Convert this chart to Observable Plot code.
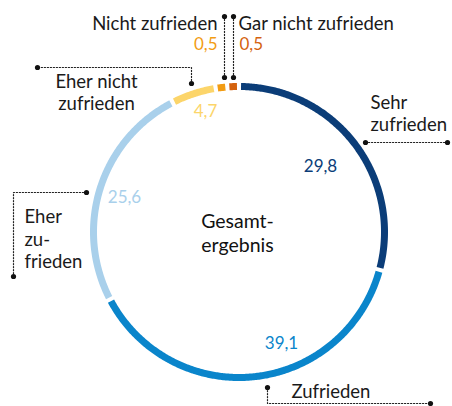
<!DOCTYPE html>
<html><head><meta charset="utf-8">
<script src="https://cdn.jsdelivr.net/npm/d3@7"></script>
<script src="https://cdn.jsdelivr.net/npm/@observablehq/plot@0.6"></script>
<style>body{margin:0;background:#fff} svg{display:block}</style>
</head><body><div id="chart"></div>
<script>
// ---- data ----
const categories = ["Sehr zufrieden","Zufrieden","Eher zufrieden","Eher nicht zufrieden","Nicht zufrieden","Gar nicht zufrieden"];
const values = [29.8, 39.1, 25.6, 4.7, 0.5, 0.5];
const valueLabels = ["29,8","39,1","25,6","4,7","0,5","0,5"];
const categoryLabels = ["Sehr\nzufrieden","Zufrieden","Eher\nzu-\nfrieden","Eher nicht\nzufrieden","Nicht zufrieden","Gar nicht zufrieden"];
const centerTitle = ["Gesamt-","ergebnis"];
const colors = ["#0b3d78","#0a85cb","#a9d0eb","#fcd56a","#f29c13","#d4620e"];

// ---- layout (pixels) ----
const W = 452, H = 406, CX = 238.5, CY = 231.5, R = 145.5, GAP = 1.6, MINSEG = 3;
const valuePos = [[320,166,"middle"],[281,343,"middle"],[124,197,"middle"],[205,111,"middle"],[217,44,"end"],[239,44,"start"]];
const labelPos = [[370,112,"start"],[291,390,"start"],[24,238,"start"],[96,91,"middle"],[217,22,"end"],[238,22,"start"]];
const titlePos = [[237,221],[237,245]];
const leaderPaths = [
  [[365,142],[447,142]],
  [[267,387],[267,403],[430,403]],
  [[86,192],[13,192],[13,276]],
  [[191,83],[191,67],[37,67]],
  [[224,77],[224,16]],
  [[233,77],[233,16]]
];

// ---- ring geometry from values ----
const small = values.map(v => v < 1);
const free = 360 - GAP * values.length - MINSEG * small.filter(Boolean).length;
const sumBig = d3.sum(values.filter((v, i) => !small[i]));
let acc = GAP / 2;
const segs = values.map((v, i) => {
  const span = small[i] ? MINSEG : v / sumBig * free;
  const s = {cat: categories[i], a0: acc, a1: acc + span};
  acc += span + GAP;
  return s;
});
const arcPts = segs.flatMap(s => {
  const n = Math.max(2, Math.ceil((s.a1 - s.a0) / 0.5) + 1);
  return d3.range(n).map(k => {
    const t = (s.a0 + (s.a1 - s.a0) * k / (n - 1)) * Math.PI / 180;
    return {cat: s.cat, x: CX + R * Math.sin(t), y: CY - R * Math.cos(t)};
  });
});
const valueData = categories.map((c, i) => ({cat: c, text: valueLabels[i], x: valuePos[i][0], y: valuePos[i][1], anchor: valuePos[i][2]}));
const labelData = categories.map((c, i) => ({cat: c, text: categoryLabels[i], x: labelPos[i][0], y: labelPos[i][1], anchor: labelPos[i][2]}));
const titleData = centerTitle.map((t, i) => ({text: t, x: titlePos[i][0], y: titlePos[i][1]}));
const leaderPts = leaderPaths.flatMap((p, i) => p.map(([x, y]) => ({cat: categories[i], x, y})));
const leaderEnds = leaderPaths.flatMap((p, i) => [p[0], p[p.length - 1]].map(([x, y]) => ({cat: categories[i], x, y})));

const textMarks = (data, opts) => ["start","middle","end"].map(a =>
  Plot.text(data.filter(d => d.anchor === a), {x: "x", y: "y", text: "text", textAnchor: a, lineAnchor: "middle", ...opts}));

const chart = Plot.plot({
  width: W, height: H, margin: 0,
  style: {fontFamily: "Lato, 'Open Sans', sans-serif", background: "#fff"},
  x: {domain: [0, W], axis: null},
  y: {domain: [H, 0], axis: null},
  color: {domain: categories, range: colors},
  marks: [
    Plot.line(arcPts, {x: "x", y: "y", z: "cat", stroke: "cat", strokeWidth: 7, strokeLinecap: "butt", curve: "linear"}),
    Plot.line(leaderPts, {x: "x", y: "y", z: "cat", stroke: "#222", strokeWidth: 1.2, strokeDasharray: "1.2 1.8"}),
    Plot.dot(leaderEnds, {x: "x", y: "y", r: 2.6, fill: "#111"}),
    ...textMarks(valueData, {fill: "cat", fontSize: 17}),
    ...textMarks(labelData, {fill: "#1a1a1a", fontSize: 18.5, lineHeight: 1.2}),
    Plot.text(titleData, {x: "x", y: "y", text: "text", fontSize: 19.5, fill: "#111", textAnchor: "middle", lineAnchor: "middle"})
  ]
});
document.getElementById("chart").append(chart);
</script>
</body></html>
